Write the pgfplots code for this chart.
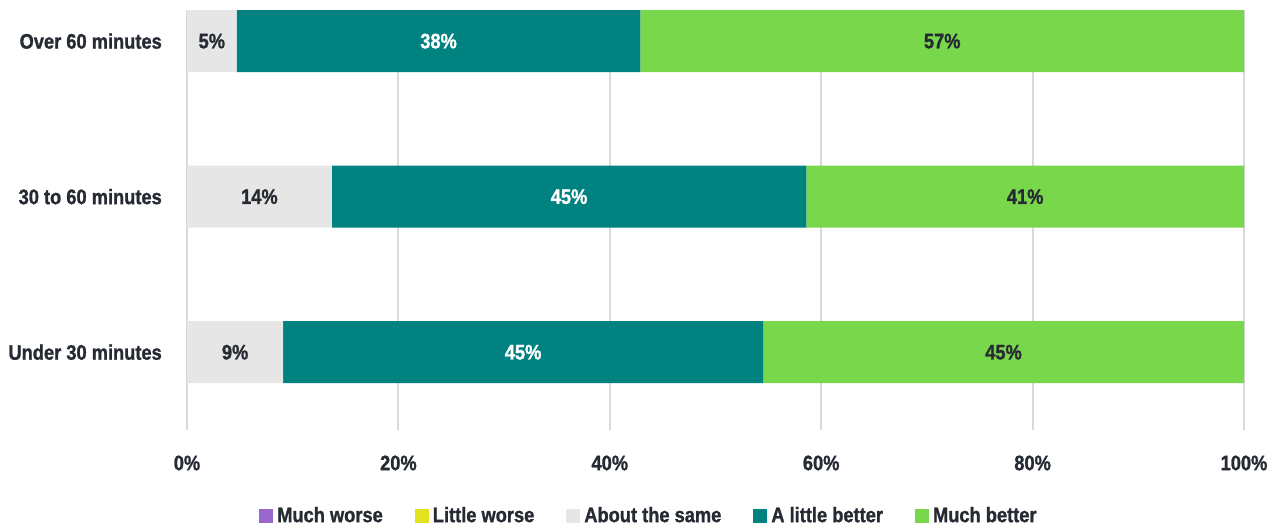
\documentclass[border=0pt]{standalone}
\usepackage{pgfplots}
\pgfplotsset{compat=1.18}
\usepackage{fontspec}
\setmainfont{Liberation Sans}[FakeStretch=0.87, BoldFeatures={FakeBold=1.2}]
\definecolor{cgray}{HTML}{E6E6E6}
\definecolor{cteal}{HTML}{008281}
\definecolor{cgreen}{HTML}{79D74B}
\definecolor{cpurple}{HTML}{9966CC}
\definecolor{cyellow}{HTML}{E2E21E}
\definecolor{ctext}{HTML}{262B33}
\definecolor{cgrid}{HTML}{D9D9D9}
\begin{document}
\begin{tikzpicture}
\fontsize{21pt}{25pt}\selectfont\bfseries
\path[use as bounding box] (0,0) rectangle (1277pt,528pt);
\pgfplotsset{
  base/.style={
    at={(187pt,98pt)}, anchor=south west,
    scale only axis, width=1057pt, height=420pt,
    xmin=0, xmax=100, ymin=-0.5, ymax=2.2,
  }
}
\begin{axis}[base,
  xbar stacked, bar width=62pt,
  axis line style={draw=none},
  major tick length=0pt,
  xtick={0,20,40,60,80,100},
  xticklabel={\pgfmathprintnumber{\tick}\%},
  /pgf/number format/assume math mode=true,
  xticklabel style={text=ctext, anchor=center, inner sep=0pt, yshift=-33pt},
  ytick={0,1,2},
  yticklabels={Under 30 minutes, 30 to 60 minutes, Over 60 minutes},
  yticklabel style={text=ctext, anchor=east, inner sep=0pt, xshift=-25pt},
  xmajorgrids, grid style={cgrid, line width=2pt},
  legend columns=5,
  legend style={draw=none, fill=none, at={(0.437,-0.205)}, anchor=center,
    text=ctext, inner sep=0pt,
    /tikz/every even column/.append style={column sep=30pt}},
  legend cell align=left,
  legend image code/.code={\fill[#1] (0pt,-7pt) rectangle (14pt,7pt); \path (0pt,0pt) -- (16pt,0pt);},
]
\addplot[fill=cpurple, draw=none] coordinates {(0,0) (0,1) (0,2)};
\addlegendentry{Much worse}
\addplot[fill=cyellow, draw=none] coordinates {(0,0) (0,1) (0,2)};
\addlegendentry{Little worse}
\addplot[fill=cgray, draw=none] coordinates {(9.1,0) (13.7,1) (4.7,2)};
\addlegendentry{About the same}
\addplot[fill=cteal, draw=none] coordinates {(45.4,0) (44.9,1) (38.2,2)};
\addlegendentry{A little better}
\addplot[fill=cgreen, draw=none] coordinates {(45.5,0) (41.4,1) (57.1,2)};
\addlegendentry{Much better}
\end{axis}
\begin{axis}[base, hide axis,
  nodes near coords, point meta=explicit symbolic,
  every node near coord/.append style={anchor=center, inner sep=0pt},
]
\addplot[only marks, mark=*, mark size=0pt,
  mark options={draw opacity=0, fill opacity=0},
  every node near coord/.append style={text=ctext, text opacity=1}]
  table[meta=l] {
x y l
4.55 0 9\%
6.85 1 14\%
2.35 2 5\%
77.25 0 45\%
79.3 1 41\%
71.45 2 57\%
};
\addplot[only marks, mark=*, mark size=0pt,
  mark options={draw opacity=0, fill opacity=0},
  every node near coord/.append style={text=white, text opacity=1}]
  table[meta=l] {
x y l
31.8 0 45\%
36.15 1 45\%
23.8 2 38\%
};
\end{axis}
\end{tikzpicture}
\end{document}
